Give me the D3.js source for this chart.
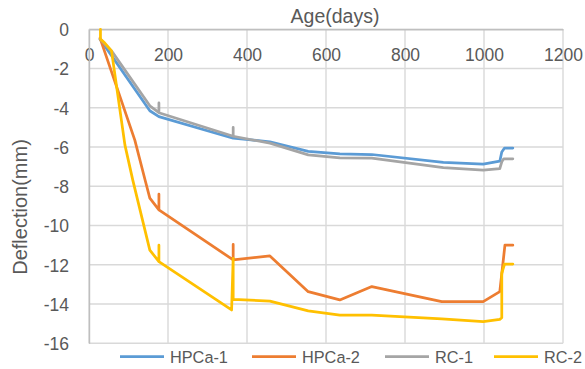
<!DOCTYPE html>
<html>
<head>
<meta charset="utf-8">
<script src="https://cdn.jsdelivr.net/npm/d3@7/dist/d3.min.js"></script>
<style>
  body { margin: 0; background: #fff; }
  svg text { font-family: "Liberation Sans", Arial, sans-serif; fill: #595959; }
</style>
</head>
<body>
<svg id="chart" width="585" height="369"></svg>
<script>
// tick values
const xTicks = [0, 200, 400, 600, 800, 1000, 1200];
const yTicks = [0, -2, -4, -6, -8, -10, -12, -14, -16];

// series: [age (days), deflection (mm)]
const hpca1 = [[28, -0.5], [154, -4.15], [177, -4.45], [365, -5.55], [458, -5.73], [555, -6.22],
  [635, -6.35], [716, -6.38], [897, -6.78], [998, -6.87], [1040, -6.72], [1045, -6.25],
  [1052, -6.05], [1073, -6.05]];
const hpca2 = [[28, -0.45], [116, -5.65], [142, -7.68], [154, -8.6], [177, -9.2], [177, -8.4],
  [177, -9.2], [365, -11.75], [365, -10.96], [365, -11.75], [458, -11.55], [555, -13.37],
  [635, -13.79], [716, -13.11], [893, -13.88], [998, -13.88], [1040, -13.37], [1053, -11.0],
  [1073, -11.0]];
const rc1 = [[28, -0.5], [57, -1.1], [154, -3.9], [177, -4.25], [177, -3.75], [177, -4.25],
  [365, -5.45], [365, -5.0], [365, -5.45], [458, -5.8], [555, -6.4], [635, -6.55], [716, -6.57],
  [897, -7.05], [998, -7.18], [1040, -7.1], [1045, -6.75], [1050, -6.6], [1073, -6.6]];
const rc2 = [[29, 0], [29, -0.5], [40, -0.7], [57, -1.1], [91, -5.9], [111, -7.7], [154, -11.25],
  [177, -11.84], [177, -11.0], [177, -11.84], [361, -14.3], [365, -11.67], [365, -13.76],
  [458, -13.85], [555, -14.35], [635, -14.56], [716, -14.57], [893, -14.76], [998, -14.9],
  [1040, -14.78], [1045, -14.7], [1045, -12.43], [1052, -11.96], [1073, -11.96]];

const seriesNames = ['HPCa-1', 'HPCa-2', 'RC-1', 'RC-2'];
const seriesData = [hpca1, hpca2, rc1, rc2];
const colors = ['#5b9bd5', '#ed7d31', '#a5a5a5', '#ffc000'];

const svg = d3.select('#chart');
const plotL = 89, plotR = 563, plotT = 29.3, plotB = 343.3;

const x = d3.scaleLinear().domain([0, 1200]).range([plotL, plotR]);
const y = d3.scaleLinear().domain([0, -16]).range([plotT, plotB]);

// plain numbers, hyphen minus, no thousands separator
const fmt = d => String(d);

// grid
const grid = svg.append('g');
grid.selectAll('.vg').data(xTicks).enter().append('line')
  .attr('x1', d => x(d)).attr('x2', d => x(d))
  .attr('y1', plotT).attr('y2', plotB)
  .attr('stroke', '#d9d9d9').attr('stroke-width', 1.4);
grid.selectAll('.hg').data(yTicks).enter().append('line')
  .attr('x1', plotL).attr('x2', plotR)
  .attr('y1', d => y(d)).attr('y2', d => y(d))
  .attr('stroke', '#d9d9d9').attr('stroke-width', 1.4);

// x axis sits on y = 0 (top), labels below it
const xAxis = svg.append('g')
  .attr('transform', 'translate(0,' + plotT + ')')
  .call(d3.axisBottom(x).tickValues(xTicks).tickFormat(fmt).tickSize(0).tickPadding(19.3));
xAxis.select('.domain').attr('stroke', '#bfbfbf').attr('stroke-width', 1.4);
xAxis.selectAll('text').style('font-size', '17.5px').attr('fill', '#595959');

const yAxis = svg.append('g')
  .attr('transform', 'translate(' + plotL + ',0)')
  .call(d3.axisLeft(y).tickValues(yTicks).tickFormat(fmt).tickSize(0).tickPadding(20));
yAxis.select('.domain').attr('stroke', '#bfbfbf').attr('stroke-width', 1.4);
yAxis.selectAll('text').style('font-size', '17.5px').attr('fill', '#595959')
  .attr('dy', '0.36em');

// titles
svg.append('text')
  .attr('x', 335).attr('y', 22.5)
  .attr('text-anchor', 'middle')
  .style('font-size', '19.5px')
  .text('Age(days)');

svg.append('text')
  .attr('transform', 'translate(27,207) rotate(-90)')
  .attr('text-anchor', 'middle')
  .style('font-size', '20px')
  .text('Deflection(mm)');

// lines
const line = d3.line()
  .x(d => x(d[0]))
  .y(d => y(d[1]));

svg.append('g').selectAll('path')
  .data(seriesData)
  .enter().append('path')
  .attr('d', line)
  .attr('fill', 'none')
  .attr('stroke', (d, i) => colors[i])
  .attr('stroke-width', 2.75)
  .attr('stroke-linejoin', 'round')
  .attr('stroke-linecap', 'round');

// legend
const legendX = [120, 252, 385, 494];
const legend = svg.append('g');
seriesNames.forEach(function (name, i) {
  legend.append('line')
    .attr('x1', legendX[i]).attr('x2', legendX[i] + 44)
    .attr('y1', 356.7).attr('y2', 356.7)
    .attr('stroke', colors[i]).attr('stroke-width', 2.75);
  legend.append('text')
    .attr('x', legendX[i] + 50).attr('y', 363.3)
    .style('font-size', '16.3px')
    .text(name);
});
</script>
</body>
</html>
